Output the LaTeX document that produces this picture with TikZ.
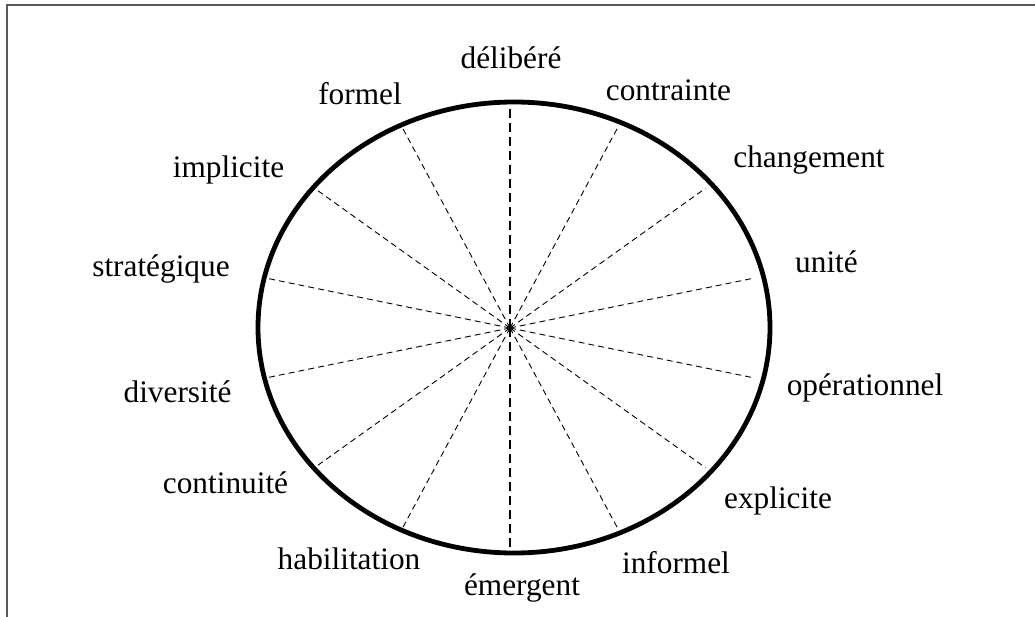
\documentclass[tikz,border=0pt]{standalone}
\usepackage{fontspec}
\setmainfont{Liberation Serif}
\usetikzlibrary{calc}
\begin{document}
\begin{tikzpicture}[x=1pt,y=-1pt,
  lbl/.style={anchor=base,inner sep=0pt,font=\fontsize{31.3}{36}\selectfont},
  spoke/.style={line width=0.9pt,dash pattern=on 6pt off 4pt},
  vspoke/.style={line width=1.8pt,dash pattern=on 9pt off 5pt},
  rim/.style={line width=4.8pt},
  frameline/.style={line width=1.4pt,draw=black!65}]
\useasboundingbox (0,0) rectangle (1035,617);
\coordinate (tl) at (7,5);
\coordinate (tr) at (1035,5);
\coordinate (bl) at (7,617);
\draw[frameline] (tr) -- (tl) -- (bl);
\coordinate (hub) at (510,328);
\coordinate (ec) at (514,327.5);
\draw[rim] (ec) ellipse [x radius=256, y radius=225.5];
\foreach \k in {1,...,6,8,9,10,11,12,13}{
  \coordinate (e\k) at ($(hub)+({250*sin(\k*360/14)},{-224*cos(\k*360/14)})$);
  \draw[spoke] (hub) -- (e\k);
}
\coordinate (top) at (510,103);
\coordinate (bot) at (510,552);
\draw[vspoke] (hub) -- (top);
\draw[vspoke] (hub) -- (bot);
\node[lbl] (l0) at (511,69) {délibéré};
\node[lbl] (l1) at (668.5,101) {contrainte};
\node[lbl] (l2) at (809,168) {changement};
\node[lbl] (l3) at (826.5,273) {unité};
\node[lbl] (l4) at (865,395) {opérationnel};
\node[lbl] (l5) at (778,508) {explicite};
\node[lbl] (l6) at (676,573) {informel};
\node[lbl] (l7) at (522,595) {émergent};
\node[lbl] (l8) at (349,569) {habilitation};
\node[lbl] (l9) at (225.5,493) {continuité};
\node[lbl] (l10) at (177.5,402) {diversité};
\node[lbl] (l11) at (161,277) {stratégique};
\node[lbl] (l12) at (228.5,178) {implicite};
\node[lbl] (l13) at (360,105) {formel};
\end{tikzpicture}
\end{document}
